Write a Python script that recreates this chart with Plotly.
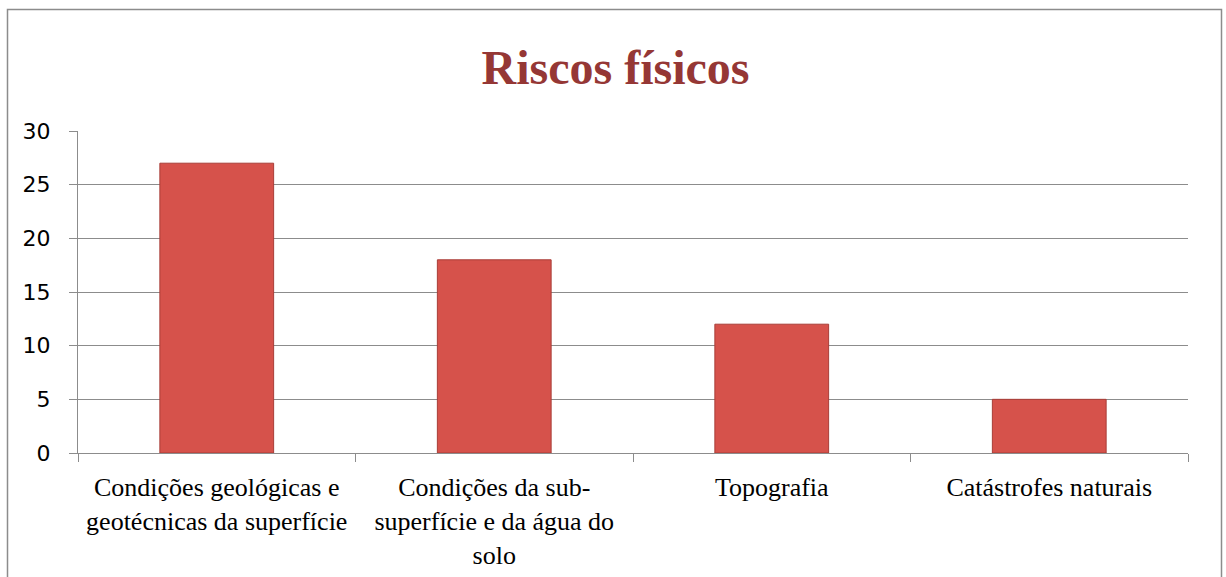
import plotly.graph_objects as go

categories = [
    "Condições geológicas e<br>geotécnicas da superfície",
    "Condições da sub-<br>superfície e da água do<br>solo",
    "Topografia",
    "Catástrofes naturais",
]
values = [27, 18, 12, 5]
y_ticks = [0, 5, 10, 15, 20, 25, 30]
title_text = "Riscos físicos"

W, H = 1226, 577
L, R, T, B = 78, 38, 131, 124
pw, ph = W - L - R, H - T - B

fig = go.Figure(
    go.Bar(
        x=categories,
        y=values,
        marker=dict(color="#D6524B", line=dict(color="#A83D37", width=1)),
        width=0.41,
    )
)

# outer chart border (paper coords); window border at x=7..1221, y=9
bx0 = (7.5 - L) / pw
bx1 = (1221.5 - L) / pw
by1 = (H - B - 9.5) / ph
by0 = (H - B - 620) / ph
fig.add_shape(type="rect", xref="paper", yref="paper", x0=bx0, x1=bx1, y0=by0, y1=by1,
              line=dict(color="#8C8C8C", width=1.5), fillcolor="rgba(0,0,0,0)", layer="below")

fig.update_layout(
    width=W, height=H,
    margin=dict(l=L, r=R, t=T, b=B, autoexpand=False),
    paper_bgcolor="white", plot_bgcolor="white",
    showlegend=False,
    title=dict(text="<b>" + title_text + "</b>", x=615.5 / W, xref="container", xanchor="center",
               y=1 - 67 / H, yref="container", yanchor="middle",
               font=dict(family="Liberation Serif", size=48, color="#953735")),
)
fig.update_xaxes(
    type="category", showgrid=False, showline=True, linecolor="#8C8C8C", linewidth=1,
    ticks="outside", tickson="boundaries", ticklen=8, tickcolor="#8C8C8C",
    ticklabelstandoff=11,
    tickfont=dict(family="Liberation Serif", size=26, color="black"),
    tickangle=0, fixedrange=True,
)
fig.update_yaxes(
    range=[0, 30], tickvals=y_ticks, showgrid=True, gridcolor="#8C8C8C", gridwidth=1,
    showline=True, linecolor="#8C8C8C", linewidth=1, zeroline=False,
    ticks="outside", ticklen=8, tickcolor="#8C8C8C", ticklabelstandoff=14,
    tickfont=dict(family="DejaVu Sans", size=22, color="black"),
)

fig.write_html(
    "out.html",
    config={"displayModeBar": False},
    post_script="document.body.style.margin='0';document.body.style.overflow='hidden';",
)
